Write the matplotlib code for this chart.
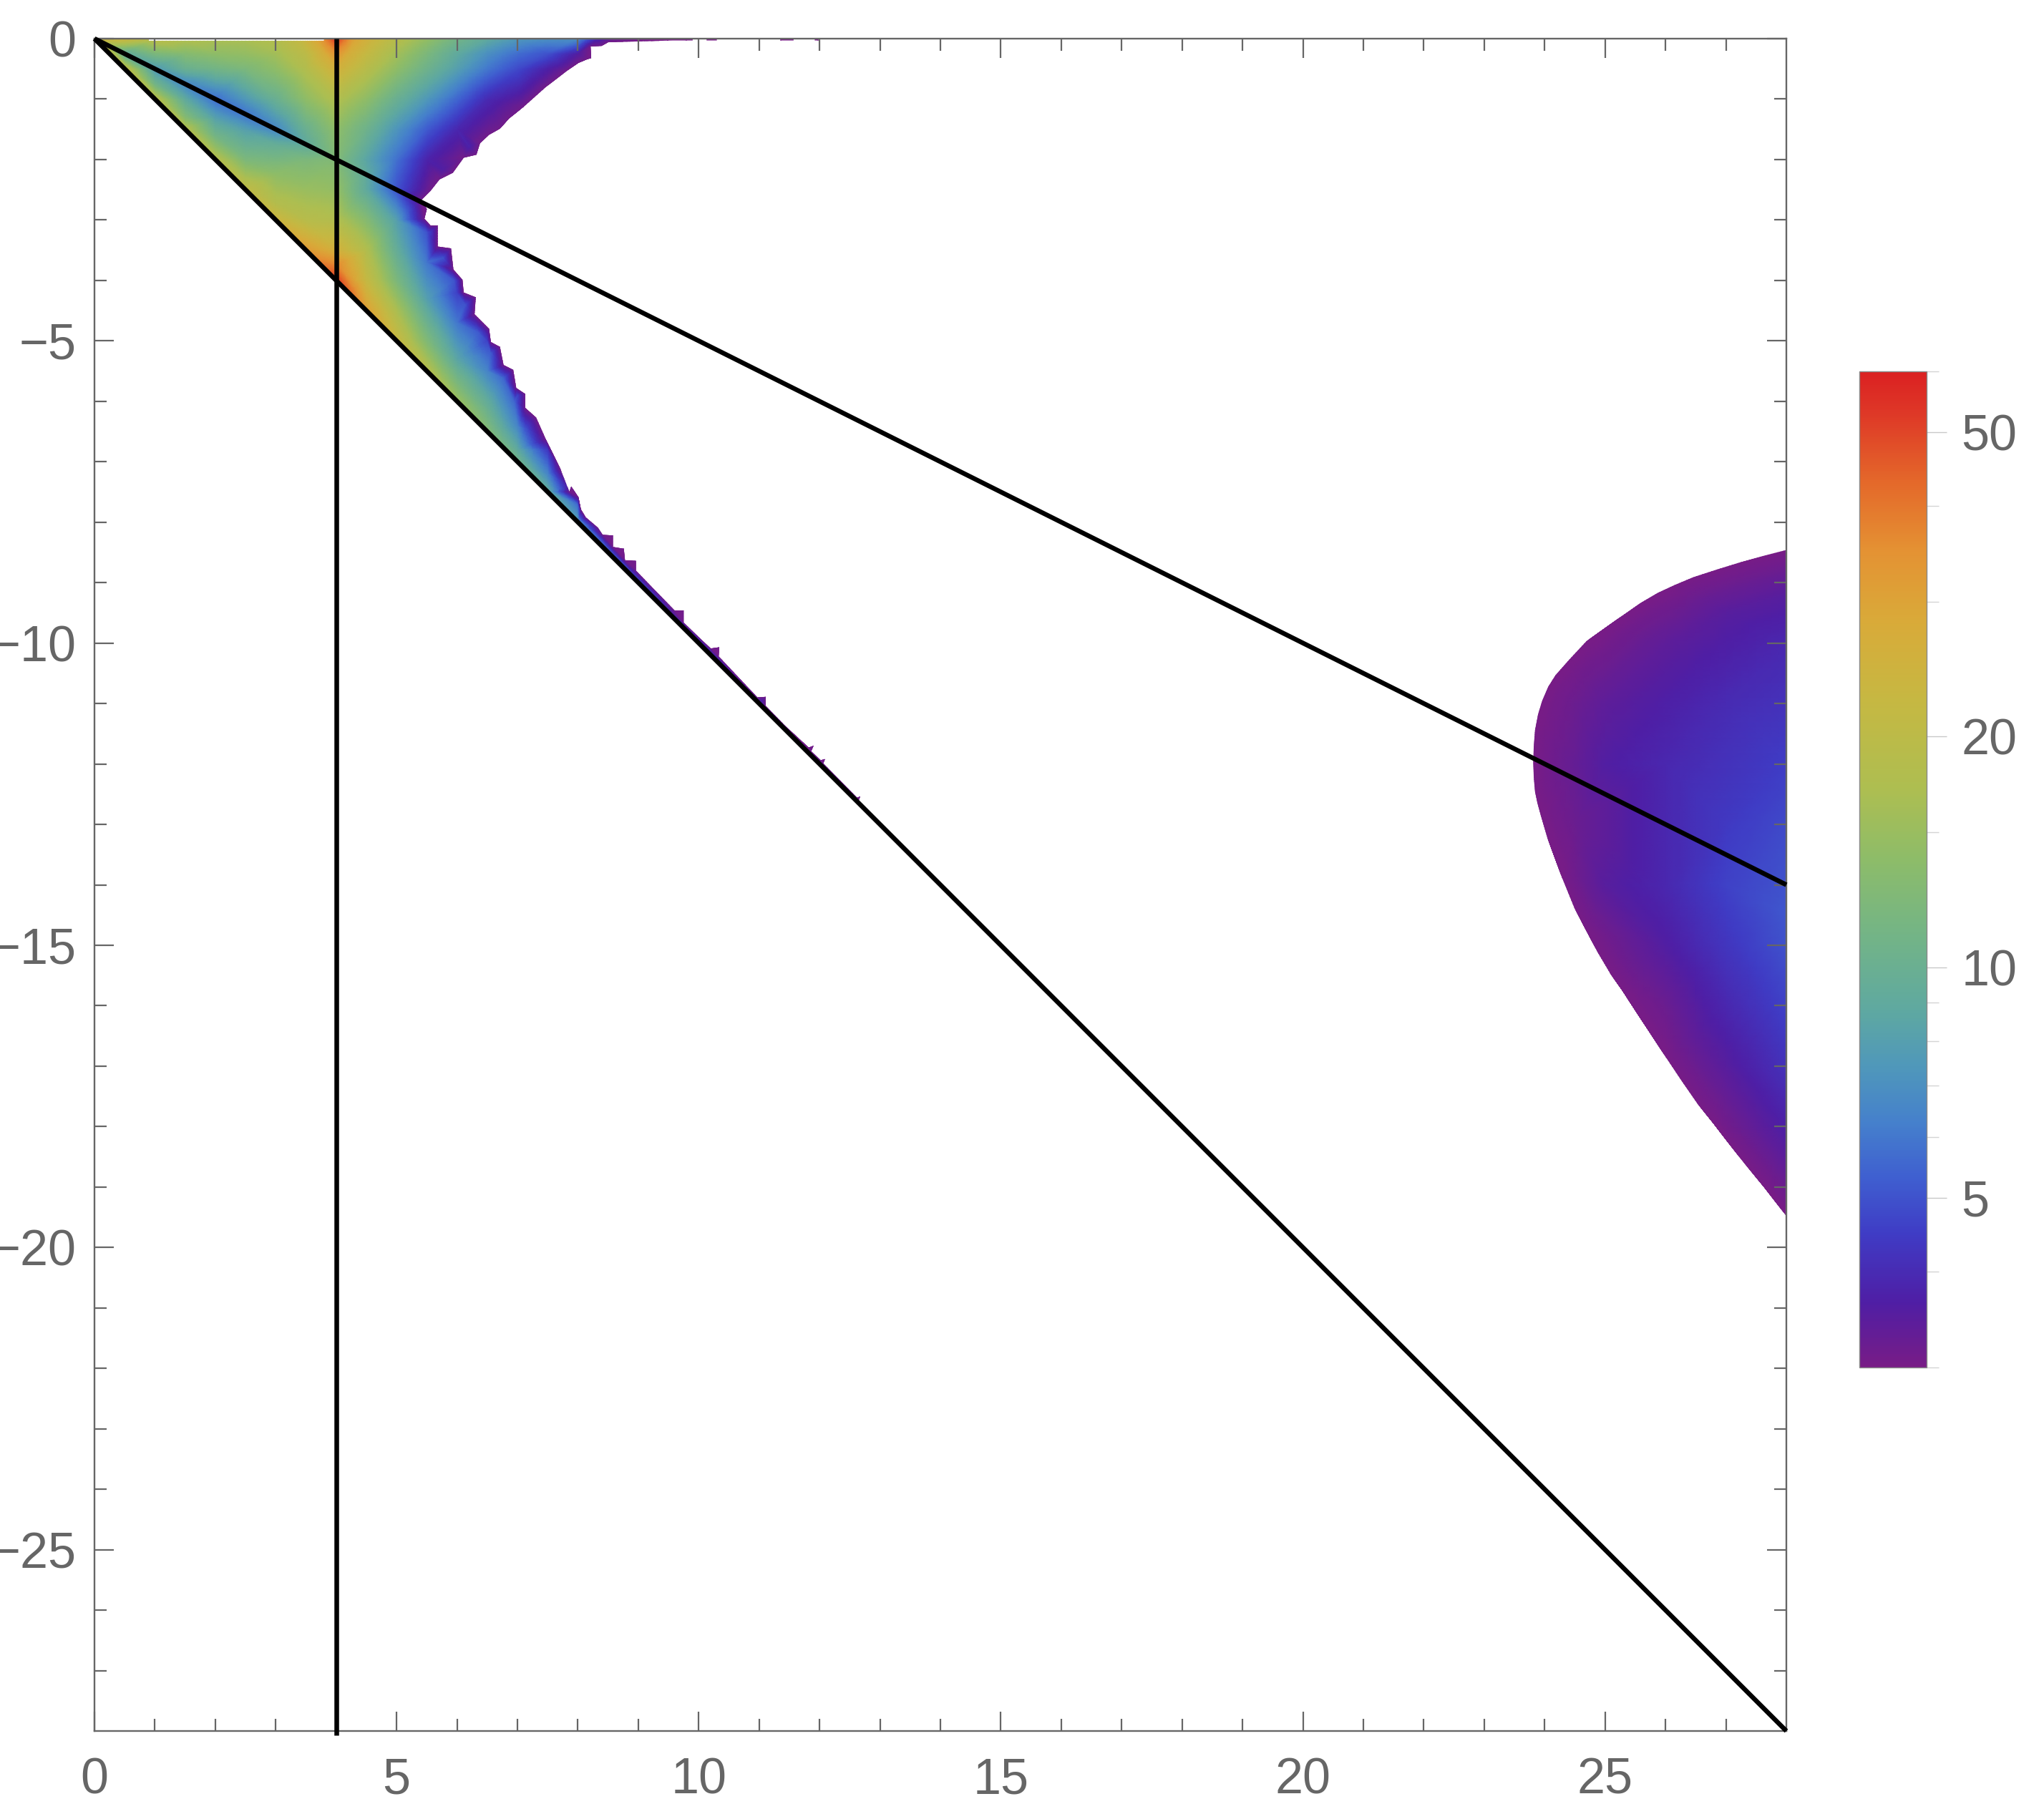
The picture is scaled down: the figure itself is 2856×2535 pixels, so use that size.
import numpy as np
import matplotlib
matplotlib.use('Agg')
import matplotlib.pyplot as plt
import matplotlib.tri as mtri
from matplotlib.colors import LinearSegmentedColormap, LogNorm
from matplotlib.cm import ScalarMappable
from matplotlib.patches import Polygon
from matplotlib.ticker import NullFormatter, FixedFormatter, FixedLocator

plt.rcParams['font.family'] = ['Liberation Sans', 'DejaVu Sans']

cmap_pos = [0.0, 0.065, 0.134, 0.19, 0.245, 0.30, 0.36, 0.44, 0.51, 0.58, 0.67, 0.75, 0.82, 0.89, 0.96, 1.0]
cmap_col = ['#781C86', '#4F1EA5', '#3F3CC5', '#3F5FD0', '#4580CC', '#4F97BB', '#5FA9A0', '#75B584',
            '#8DBC69', '#ADBE51', '#C6B842', '#D9AA39', '#E49233', '#E4682A', '#DE3727', '#DB2122']
cbar_major = [5, 10, 20, 50]
cbar_minor = [3, 4, 6, 7, 8, 9, 15, 30, 40, 60]
vmin, vmax = 3, 60

# wedge samples by row: x, y, value
top_x = [0, 0.5, 1, 1.5, 2, 2.5, 3, 3.4, 3.7, 3.85, 4, 4.15, 4.3, 4.6, 5, 5.5, 6, 6.5, 7, 7.5, 8, 8.3, 8.6, 9.5, 12]
top_v = [25, 24, 20, 18, 17, 17, 18, 22, 30, 40, 55, 40, 30, 24, 19, 14.5, 11, 9, 7.5, 7, 7, 4, 3.3, 3, 3]
r25_x = [0.5, 1, 1.5, 2, 2.5, 3, 3.5, 3.8, 4, 4.2, 4.5, 5, 5.5, 6, 6.5, 7, 7.5, 8]
r25_v = [9, 12, 13, 14, 14.5, 16, 20, 27, 35, 27, 22, 16, 12, 9, 7, 5.7, 5, 3.6]
r50_x = [1, 1.5, 2, 2.5, 3, 3.5, 4, 4.5, 5, 5.5, 6, 6.5, 7, 7.5]
r50_v = [7.5, 10, 11, 12, 14, 18, 26, 19, 14, 10.5, 8, 6, 4.8, 3.7]
r100_x = [2, 2.5, 3, 3.5, 4, 4.5, 5, 5.5, 6, 6.5]
r100_v = [5.6, 7.5, 10, 14, 18, 14, 10, 7.5, 5.5, 4]
r150_x = [3, 3.5, 4, 4.5, 5, 5.5, 6]
r150_v = [6.5, 10, 14, 10.5, 7.3, 5.2, 3.9]
r200_x = [4, 4.5, 5, 5.5]
r200_v = [12.5, 8.5, 5.8, 3.8]

# along the y = -x/2 line
mid_x = [1.5, 2.5, 3.5, 4.5]
mid_y = [-0.75, -1.25, -1.75, -2.25]
mid_v = [6.5, 5.8, 9, 9]

# along the y = -x edge
diag_x = [0.5, 1, 1.5, 2, 2.5, 3, 3.5, 3.8, 4, 4.2, 4.5, 5, 5.5, 6, 6.5, 7, 7.5, 8, 8.5, 9, 10, 11, 12, 13]
diag_v = [22, 20, 19, 19, 21, 24, 33, 42, 55, 45, 32, 23, 19, 15.5, 13, 11, 9.5, 8, 6.5, 5.5, 5, 4.2, 3.5, 3]

# below the y = -x/2 line
low_x = [1, 1.5, 1.5, 2, 2, 2.5, 2.5, 3, 3, 3, 3.5, 3.5, 3.5, 4, 4, 4, 3.8, 4, 4.3, 4.5, 4.5, 4.5, 4.5, 5, 5, 5, 5, 5,
         5.5, 5.5, 5.5, 5.5, 6, 6, 6, 6, 6.5, 6.5, 6.5, 7, 7, 7, 7.5, 7.5, 8]
low_y = [-0.75, -1.0, -1.3, -1.3, -1.6, -1.5, -2, -1.75, -2.25, -2.7, -2, -2.5, -3, -2.5, -3, -3.5, -3.7, -3.75, -4,
         -2.5, -3, -3.5, -4, -2.5, -3, -3.5, -4, -4.5, -3.2, -3.7, -4.3, -5, -4.2, -4.7, -5.3, -5.7,
         -5, -5.5, -6.1, -5.9, -6.4, -6.8, -6.8, -7.2, -7.7]
low_v = [11, 9, 13, 8, 11, 8, 12, 9.5, 14, 18, 12, 15, 19, 14.5, 18, 26, 38, 38, 30, 9, 13, 18, 22, 5, 8, 9.5, 12, 17,
         5, 6, 8, 12.5, 4.6, 6, 8.5, 12, 4.6, 6.5, 10, 4.7, 6.5, 9, 4.3, 6.5, 5.5]

# lighter spots inside the scallops
bump_x = [6.2, 5.77, 5.56, 5.77, 5.96, 6.14, 6.35, 6.56, 6.77, 6.95, 7.13]
bump_y = [-1.78, -2.17, -3.2, -3.63, -4.0, -4.4, -4.86, -5.2, -5.62, -6.0, -6.44]
bump_v = [3.8, 3.6, 4.5, 5, 5, 5, 5.2, 5.2, 5.5, 5.5, 5]

# top edge of the wedge with its gaps, out along y = 0 and back under the thin strip
cap_x = [0, 0.9, 0.9, 3.8, 3.8, 11.98]
cap_y = [0, 0, -0.035, -0.035, 0, 0]
strip_x = [11.98, 11.92, 11.92, 11.57, 11.57, 11.35, 11.35, 10.3, 10.3, 10.13, 10.13, 9.9, 9.9, 9.57]
strip_y = [-0.03, -0.03, 0, 0, -0.03, -0.03, 0, 0, -0.03, -0.03, 0, 0, -0.03, -0.03]

# outer edge from the strip round to the end of the spikes
edge_x = [8.5, 8.39, 8.21, 8.22, 8.15, 8.01, 7.82, 7.47, 7.1, 6.86, 6.71,
          6.53, 6.38, 6.32, 6.11, 5.93, 5.71, 5.56, 5.41, 5.5, 5.46, 5.56, 5.68, 5.68, 5.9, 5.94, 6.09,
          6.11, 6.31, 6.29, 6.53, 6.56, 6.71, 6.77, 6.93, 6.98, 7.13, 7.13, 7.31, 7.47, 7.71, 7.86, 7.89,
          8.01, 8.05, 8.13, 8.33, 8.41, 8.58, 8.58, 8.76, 8.78, 8.96, 8.96, 9.25, 9.6, 9.75, 9.75, 10.05,
          10.2, 10.34, 10.33, 10.84, 10.97, 11.11, 11.11, 11.43, 11.82, 11.9, 11.86, 12.02, 12.09, 12.06,
          12.62, 12.67, 12.64, 12.7]
edge_y = [-0.06, -0.12, -0.13, -0.32, -0.34, -0.40, -0.53, -0.8, -1.13, -1.32, -1.49,
          -1.59, -1.73, -1.92, -1.97, -2.22, -2.33, -2.52, -2.67, -2.82, -2.98, -3.09, -3.09, -3.44,
          -3.47, -3.82, -3.99, -4.2, -4.28, -4.56, -4.8, -5.02, -5.1, -5.4, -5.48, -5.78, -5.88, -6.11,
          -6.27, -6.63, -7.12, -7.5, -7.41, -7.59, -7.79, -7.92, -8.09, -8.21, -8.22, -8.41, -8.44,
          -8.63, -8.64, -8.8, -9.1, -9.46, -9.46, -9.66, -9.95, -10.09, -10.07, -10.22, -10.76, -10.9,
          -10.89, -11.04, -11.37, -11.73, -11.7, -11.79, -11.94, -11.92, -11.99, -12.56, -12.54, -12.62,
          -12.7]

# right hand blob: edge then inside samples
blob_edge_x = [28, 27.61, 27.25, 26.86, 26.46, 26.15, 25.87, 25.58, 25.28, 24.96, 24.69, 24.41, 24.18, 24.06,
               23.96, 23.89, 23.84, 23.82, 23.81, 23.82, 23.84, 23.88, 23.94, 24.04, 24.14, 24.29, 24.49, 24.69,
               24.89, 25.08, 25.28, 25.52, 25.75, 26.01, 26.27, 26.52, 26.78, 27.01, 27.25, 27.63, 28]
blob_edge_y = [-8.46, -8.56, -8.66, -8.78, -8.91, -9.04, -9.17, -9.34, -9.55, -9.78, -9.97, -10.27, -10.53,
               -10.72, -10.95, -11.18, -11.44, -11.7, -11.97, -12.23, -12.46, -12.65, -12.87, -13.21, -13.48,
               -13.89, -14.38, -14.76, -15.14, -15.46, -15.74, -16.11, -16.46, -16.86, -17.25, -17.61, -17.93,
               -18.23, -18.54, -19.0, -19.48]
blob_in_x = [28, 28, 28, 28, 28, 28, 28, 28, 28, 28, 28, 28,
             27, 27, 27, 27, 27, 27, 27, 27,
             26, 26, 26, 26, 26, 25, 25, 25, 24.5, 24.5, 24.5]
blob_in_y = [-9.2, -10, -11, -12, -13, -14, -14.5, -15, -16, -17, -18, -19,
             -9.5, -11, -13, -14, -15, -16, -17, -18,
             -10, -12, -14, -15, -16, -11, -12, -14, -11, -12, -13]
blob_in_v = [3.5, 3.9, 4.2, 4.5, 4.8, 5, 5.1, 5, 4.6, 4.2, 3.7, 3.2,
             3.5, 4.0, 4.4, 4.6, 4.3, 3.9, 3.5, 3.1,
             3.4, 3.9, 3.9, 3.6, 3.2, 3.4, 3.6, 3.5, 3.2, 3.3, 3.2]

# black lines
line_end = 28
vline_x = 4
wedge_slope = -1
mid_slope = -0.5

frame_col = '#666666'
cmap = LinearSegmentedColormap.from_list('rainbow_mma', list(zip(cmap_pos, cmap_col)), N=512)
norm = LogNorm(vmin=vmin, vmax=vmax)


def draw_field(ax, x, y, v, clip_x, clip_y):
    pts = np.column_stack([x, y])
    pts, idx = np.unique(pts, axis=0, return_index=True)
    v = np.asarray(v, dtype=float)[idx]
    tri = mtri.Triangulation(pts[:, 0], pts[:, 1])
    interp = mtri.LinearTriInterpolator(tri, np.log(v))
    fine, logv = mtri.UniformTriRefiner(tri).refine_field(np.log(v), triinterpolator=interp, subdiv=3)
    logv = np.nan_to_num(logv, nan=np.log(vmin))
    mesh = ax.tripcolor(fine, np.exp(logv), shading='gouraud', cmap=cmap, norm=norm, zorder=1)
    poly = Polygon(np.column_stack([clip_x, clip_y]), closed=True, transform=ax.transData)
    mesh.set_clip_path(poly)


fig = plt.figure(figsize=(28.56, 25.35), dpi=100)
W, H = 2856.0, 2535.0
ax = fig.add_axes([132 / W, 1 - 2419 / H, 2364 / W, 2365 / H])

rim_v = [3.1] * len(edge_x)
wedge_x = (top_x + r25_x + r50_x + r100_x + r150_x + r200_x + mid_x + diag_x + low_x + bump_x + edge_x)
wedge_y = ([0] * len(top_x) + [-0.25] * len(r25_x) + [-0.5] * len(r50_x) + [-1] * len(r100_x)
           + [-1.5] * len(r150_x) + [-2] * len(r200_x) + mid_y + [-d for d in diag_x] + low_y + bump_y + edge_y)
wedge_v = (top_v + r25_v + r50_v + r100_v + r150_v + r200_v + mid_v + diag_v + low_v + bump_v + rim_v)
draw_field(ax, wedge_x, wedge_y, wedge_v, cap_x + strip_x + edge_x, cap_y + strip_y + edge_y)

blob_x = blob_edge_x + blob_in_x
blob_y = blob_edge_y + blob_in_y
blob_v = [3.0] * len(blob_edge_x) + blob_in_v
draw_field(ax, blob_x, blob_y, blob_v, blob_edge_x, blob_edge_y)

ax.plot([0, line_end], [0, wedge_slope * line_end], color='k', lw=4.7, zorder=5, clip_on=False, solid_capstyle='butt')
ax.plot([0, line_end], [0, mid_slope * line_end], color='k', lw=4.7, zorder=5, clip_on=False, solid_capstyle='butt')
ax.plot([vline_x, vline_x], [0, -28.07], color='k', lw=4.7, zorder=5, clip_on=False, solid_capstyle='butt')

ax.set_xlim(0, 28)
ax.set_ylim(-28, 0)
ax.set_xticks(range(0, 30, 5))
ax.set_xticks([i for i in range(1, 28) if i % 5], minor=True)
ax.set_yticks(range(0, -30, -5))
ax.set_yticks([-i for i in range(1, 28) if i % 5], minor=True)
ax.tick_params(which='major', direction='in', length=19.4, width=1.6, color=frame_col, top=True, right=True,
               labelsize=50.5, labelcolor=frame_col)
ax.tick_params(which='minor', direction='in', length=12.2, width=1.6, color=frame_col, top=True, right=True)
ax.tick_params(axis='x', which='major', pad=26.5)
ax.tick_params(axis='y', which='major', pad=18.5)
for s in ax.spines.values():
    s.set_color(frame_col)
    s.set_linewidth(1.7)

cax = fig.add_axes([2598 / W, 1 - 1911 / H, 94 / W, 1392 / H])
cb = fig.colorbar(ScalarMappable(norm=norm, cmap=cmap), cax=cax)
cax.yaxis.set_major_locator(FixedLocator(cbar_major))
cax.yaxis.set_major_formatter(FixedFormatter([str(i) for i in cbar_major]))
cax.yaxis.set_minor_locator(FixedLocator(cbar_minor))
cax.yaxis.set_minor_formatter(NullFormatter())
cax.tick_params(which='major', length=20, width=1, color='#c8c8c8', labelsize=50.5, labelcolor=frame_col, pad=15)
cax.tick_params(which='minor', length=12, width=1, color='#d4d4d4')
cb.outline.set_edgecolor('#888888')
cb.outline.set_linewidth(1)

fig.savefig('out.png', dpi=100)
